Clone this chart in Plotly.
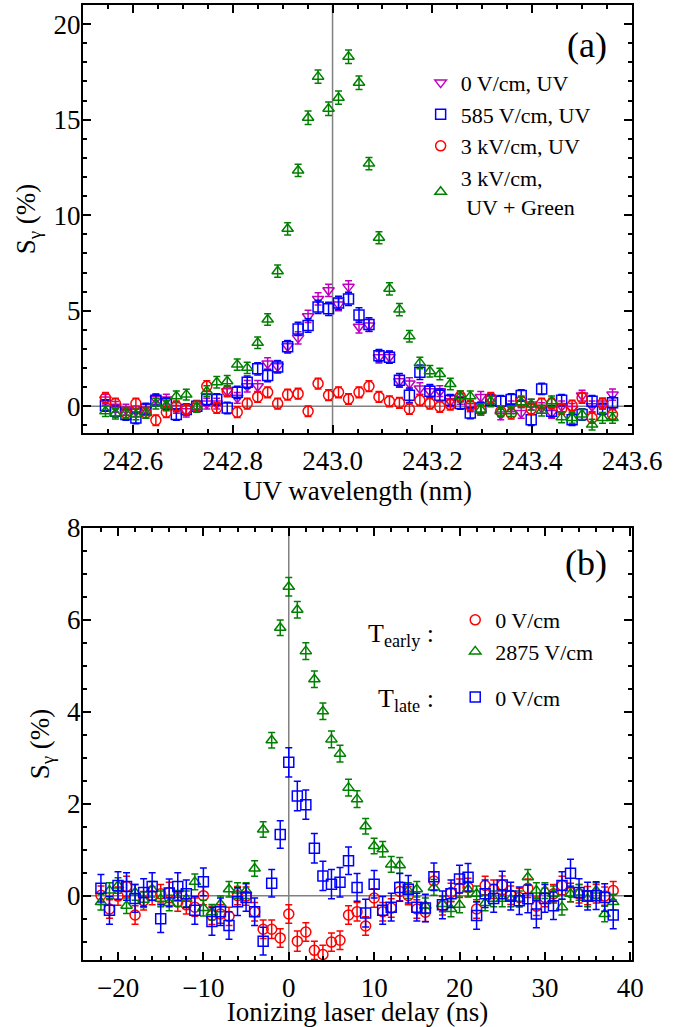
import plotly.graph_objects as go

# ---------------- Panel (a) data ----------------
wavelength_nm = [242.545, 242.565, 242.586, 242.606, 242.626, 242.646, 242.667, 242.687, 242.707, 242.728,
                 242.748, 242.768, 242.789, 242.809, 242.829, 242.850, 242.870, 242.890, 242.910, 242.931,
                 242.951, 242.971, 242.992, 243.012, 243.032, 243.053, 243.073, 243.093, 243.114, 243.134,
                 243.154, 243.175, 243.195, 243.215, 243.236, 243.256, 243.276, 243.297, 243.317, 243.337,
                 243.358, 243.378, 243.398, 243.419, 243.439, 243.459, 243.480, 243.500, 243.520, 243.541,
                 243.561]

s_0V_uv = [0.35, -0.03, -0.17, -0.26, -0.17, 0.38, 0.35, -0.09, -0.26, 0.00,
           0.14, 0.14, 0.79, 0.44, 1.05, 1.05, 2.24, 2.09, 3.14, 3.58,
           4.71, 5.62, 6.07, 5.32, 6.25, 4.16, 4.23, 2.57, 2.58, 1.31,
           1.19, 0.93, 0.79, 0.79, 0.26, 0.38, 0.00, 0.49, 0.38, -0.43,
           0.00, -0.35, 0.09, -0.09, -0.35, 0.00, -0.14, 0.56, 0.00, 0.14,
           0.61]
e_0V_uv = [0.28, 0.28, 0.28, 0.28, 0.28, 0.28, 0.28, 0.28, 0.30, 0.28,
           0.28, 0.28, 0.28, 0.28, 0.30, 0.30, 0.30, 0.30, 0.30, 0.32,
           0.32, 0.32, 0.32, 0.32, 0.32, 0.32, 0.32, 0.30, 0.30, 0.30,
           0.30, 0.30, 0.30, 0.28, 0.28, 0.28, 0.28, 0.28, 0.28, 0.28,
           0.28, 0.28, 0.28, 0.28, 0.28, 0.28, 0.28, 0.28, 0.28, 0.28,
           0.30]

s_585V_uv = [0.04, -0.26, -0.43, -0.61, -0.14, 0.31, 0.14, -0.43, -0.17, 0.00,
             0.35, 0.35, -0.09, 0.73, 1.26, 1.96, 1.61, 2.06, 3.11, 4.05,
             4.23, 5.20, 5.10, 5.41, 5.62, 4.78, 4.28, 2.65, 2.57, 1.36,
             0.58, 1.78, 0.79, 0.58, 0.31, 0.14, -0.35, -0.09, 0.31, 0.26,
             0.35, 0.56, -0.70, 0.91, -0.26, 0.31, -0.70, -0.43, 0.26, -0.14,
             0.18]
e_585V_uv = [0.30, 0.30, 0.30, 0.30, 0.30, 0.30, 0.30, 0.30, 0.30, 0.30,
             0.30, 0.30, 0.30, 0.32, 0.32, 0.32, 0.32, 0.32, 0.32, 0.35,
             0.35, 0.35, 0.35, 0.35, 0.35, 0.38, 0.35, 0.32, 0.32, 0.35,
             0.38, 0.38, 0.35, 0.32, 0.30, 0.30, 0.30, 0.30, 0.30, 0.30,
             0.30, 0.30, 0.30, 0.30, 0.30, 0.30, 0.30, 0.30, 0.30, 0.30,
             0.30]

s_3kV_uv = [0.44, 0.14, -0.35, 0.14, -0.35, -0.73, -0.31, 0.00, -0.17, 0.00,
            1.05, -0.09, 0.79, -0.31, 0.14, 0.49, 0.73, 0.14, 0.61, 0.66,
            -0.26, 1.19, 0.58, 0.73, 0.38, 0.73, 1.05, 0.49, 0.26, 0.18,
            -0.14, 0.31, 0.14, -0.03, 0.09, 0.52, 0.04, -0.17, 0.44, -0.26,
            -0.38, 0.26, -0.14, 0.14, 0.14, -0.14, 0.04, 0.44, -0.61, 0.14,
            -0.43]
e_3kV_uv = [0.28, 0.28, 0.28, 0.28, 0.28, 0.28, 0.28, 0.28, 0.28, 0.28,
            0.28, 0.28, 0.28, 0.28, 0.28, 0.28, 0.28, 0.28, 0.28, 0.28,
            0.28, 0.28, 0.28, 0.28, 0.28, 0.28, 0.28, 0.28, 0.28, 0.28,
            0.28, 0.28, 0.28, 0.28, 0.28, 0.28, 0.28, 0.28, 0.28, 0.28,
            0.28, 0.28, 0.28, 0.28, 0.28, 0.28, 0.28, 0.28, 0.28, 0.28,
            0.28]

s_3kV_uvg = [-0.26, -0.38, -0.35, -0.43, -0.35, 0.14, 0.04, 0.52, 0.61, -0.03,
             0.79, 1.26, 1.31, 2.18, 2.01, 3.32, 4.54, 7.07, 9.29, 12.34,
             15.10, 17.25, 15.57, 16.15, 18.29, 16.93, 12.70, 8.82, 6.15, 5.06,
             3.66, 2.27, 1.83, 1.69, 1.17, 0.52, 0.52, -0.17, 0.26, -0.26,
             -0.26, 0.21, 0.09, -0.23, 0.26, -0.58, -0.61, -0.43, -0.96, -0.61,
             -0.61]
e_3kV_uvg = [0.28, 0.28, 0.28, 0.28, 0.28, 0.28, 0.28, 0.28, 0.28, 0.28,
             0.28, 0.30, 0.30, 0.30, 0.30, 0.30, 0.30, 0.32, 0.32, 0.32,
             0.35, 0.35, 0.35, 0.35, 0.35, 0.35, 0.32, 0.32, 0.32, 0.32,
             0.30, 0.30, 0.30, 0.30, 0.30, 0.28, 0.28, 0.28, 0.28, 0.28,
             0.28, 0.28, 0.28, 0.28, 0.28, 0.28, 0.28, 0.28, 0.28, 0.28,
             0.28]

# ---------------- Panel (b) data ----------------
delay_ns = [-22, -21, -20, -19, -18, -17, -16, -15, -14, -13, -12, -11, -10, -9, -8, -7, -6, -5, -4, -3, -2, -1,
            0, 1, 2, 3, 4, 5, 6, 7, 8, 9, 10, 11, 12, 13, 14, 15, 16, 17, 18, 19, 20,
            21, 22, 23, 24, 25, 26, 27, 28, 29, 30, 31, 32, 33, 34, 35, 36, 37, 38]

s_early_0V = [0.01, -0.29, -0.01, 0.20, -0.42, -0.11, 0.00, 0.04, 0.07, -0.14, -0.20, -0.25, 0.00, -0.43, -0.40,
              -0.45, 0.00, -0.01, -0.35, -0.73, -0.73, -0.92, -0.40, -0.99, -0.79, -1.19, -1.28, -1.01, -0.97,
              -0.42, -0.35, -0.66, -0.05, -0.35, -0.27, 0.09, 0.00, -0.29, -0.36, 0.32, -0.22, 0.07, 0.16,
              0.18, -0.29, 0.22, 0.14, 0.23, 0.01, -0.04, 0.16, -0.23, -0.04, 0.04, 0.22, 0.07, 0.04,
              0.00, 0.04, -0.01, 0.11]
e_early_0V = [0.20, 0.20, 0.20, 0.22, 0.20, 0.20, 0.20, 0.20, 0.22, 0.20, 0.20, 0.20, 0.20, 0.20, 0.20,
              0.20, 0.20, 0.20, 0.20, 0.20, 0.20, 0.20, 0.20, 0.22, 0.20, 0.20, 0.20, 0.20, 0.20,
              0.20, 0.20, 0.20, 0.20, 0.20, 0.20, 0.20, 0.20, 0.20, 0.20, 0.20, 0.20, 0.20, 0.20,
              0.20, 0.20, 0.20, 0.20, 0.20, 0.20, 0.20, 0.20, 0.20, 0.20, 0.20, 0.20, 0.20, 0.20,
              0.20, 0.20, 0.20, 0.20]

s_early_2875V = [-0.14, 0.11, 0.22, -0.22, 0.07, -0.09, 0.14, -0.07, -0.16, -0.06, -0.07, 0.30, -0.27, -0.36, -0.18,
                 0.14, 0.11, 0.11, 0.59, 1.44, 3.38, 5.83, 6.72, 6.22, 5.32, 4.71, 4.01, 3.40, 3.09,
                 2.35, 2.10, 1.51, 1.08, 1.01, 0.68, 0.66, 0.11, 0.14, -0.22, 0.18, -0.18, -0.29, -0.20,
                 0.14, 0.04, -0.16, -0.07, -0.07, -0.07, -0.07, 0.40, 0.11, 0.11, 0.04, -0.25, 0.04, 0.07,
                 -0.07, 0.11, -0.40, -0.14]
e_early_2875V = [0.17, 0.17, 0.17, 0.17, 0.17, 0.17, 0.17, 0.17, 0.17, 0.17, 0.17, 0.17, 0.17, 0.17, 0.17,
                 0.17, 0.17, 0.17, 0.17, 0.17, 0.17, 0.17, 0.20, 0.18, 0.18, 0.18, 0.18, 0.18, 0.18,
                 0.18, 0.18, 0.17, 0.17, 0.17, 0.17, 0.17, 0.17, 0.17, 0.17, 0.17, 0.17, 0.17, 0.17,
                 0.17, 0.17, 0.17, 0.17, 0.17, 0.17, 0.17, 0.17, 0.17, 0.17, 0.17, 0.17, 0.17, 0.17,
                 0.17, 0.17, 0.17, 0.17]

s_late_0V = [0.16, -0.32, 0.22, 0.20, -0.06, 0.07, 0.20, -0.50, 0.06, 0.20, 0.04, -0.32, 0.30, -0.56, -0.35,
             -0.65, -0.13, -0.04, -0.35, -0.99, 0.27, 1.33, 2.90, 2.17, 1.98, 1.03, 0.43, 0.25, 0.29,
             0.76, 0.18, -0.38, 0.25, -0.32, -0.25, 0.18, 0.14, -0.25, -0.27, 0.41, -0.20, 0.04, 0.36,
             0.40, -0.43, 0.04, -0.06, 0.23, -0.01, -0.11, -0.07, -0.40, -0.06, -0.22, 0.22, 0.49, 0.07,
             -0.01, 0.00, -0.04, -0.42]
e_late_0V = [0.30, 0.30, 0.30, 0.30, 0.30, 0.30, 0.30, 0.30, 0.30, 0.30, 0.30, 0.30, 0.30, 0.30, 0.30,
             0.30, 0.30, 0.30, 0.30, 0.30, 0.30, 0.30, 0.32, 0.32, 0.32, 0.32, 0.32, 0.32, 0.32,
             0.30, 0.30, 0.30, 0.30, 0.30, 0.30, 0.30, 0.30, 0.30, 0.30, 0.30, 0.30, 0.30, 0.30,
             0.30, 0.30, 0.30, 0.30, 0.30, 0.30, 0.30, 0.30, 0.30, 0.30, 0.30, 0.30, 0.30, 0.30,
             0.30, 0.30, 0.30, 0.30]

FONT = "'Liberation Serif', 'DejaVu Serif', serif"
MAGENTA = "#BF00BF"
BLUE = "#0000FF"
RED = "#FF0000"
GREEN = "#008000"

fig = go.Figure()


def add_series(x, y, err, color, symbol, name, xa, ya, legend, group):
    fig.add_trace(go.Scatter(
        x=x, y=y, mode="markers", name=name,
        xaxis=xa, yaxis=ya, legend=legend,
        legendgroup=group,
        marker=dict(symbol=symbol, size=10, color=color,
                    line=dict(color=color, width=1.5)),
        error_y=dict(type="data", array=err, visible=True, color=color,
                     thickness=1.5, width=3.5),
    ))


add_series(wavelength_nm, s_0V_uv, e_0V_uv, MAGENTA, "triangle-down-open", "0 V/cm, UV", "x", "y", "legend", "a1")
add_series(wavelength_nm, s_585V_uv, e_585V_uv, BLUE, "square-open", "585 V/cm, UV", "x", "y", "legend", "a2")
add_series(wavelength_nm, s_3kV_uv, e_3kV_uv, RED, "circle-open", "3 kV/cm, UV", "x", "y", "legend", "a3")
add_series(wavelength_nm, s_3kV_uvg, e_3kV_uvg, GREEN, "triangle-up-open", "3 kV/cm,<br> UV + Green", "x", "y", "legend", "a4")

add_series(delay_ns, s_early_0V, e_early_0V, RED, "circle-open", "0 V/cm", "x2", "y2", "legend2", "early")
add_series(delay_ns, s_early_2875V, e_early_2875V, GREEN, "triangle-up-open", "2875 V/cm", "x2", "y2", "legend2", "early")
add_series(delay_ns, s_late_0V, e_late_0V, BLUE, "square-open", "0 V/cm", "x2", "y2", "legend2", "late")

axis_common = dict(
    showline=True, linewidth=2, linecolor="black", mirror="ticks",
    ticks="inside", ticklen=8, tickwidth=2, tickcolor="black",
    showgrid=False, zeroline=False, automargin=False,
    tickfont=dict(family=FONT, size=27, color="black"),
    title_font=dict(family=FONT, size=27, color="black"),
)
minor_common = dict(ticklen=4, tickwidth=1.5, ticks="inside", tickcolor="black", showgrid=False)

fig.update_layout(
    width=687, height=1027,
    paper_bgcolor="white", plot_bgcolor="white",
    margin=dict(l=83, r=55, t=5, b=67, autoexpand=False),
    font=dict(family=FONT, color="black"),
    xaxis=dict(axis_common, domain=[0, 1], anchor="y", range=[242.5, 243.6],
               tick0=242.0, dtick=0.2, tickformat=".1f", ticklabelstandoff=3,
               minor=dict(minor_common, dtick=0.05),
               title=dict(text="UV wavelength (nm)", standoff=3)),
    yaxis=dict(axis_common, domain=[0.5518, 1], anchor="x", range=[-1.4, 21],
               tick0=0, dtick=5, ticklabelstandoff=-5,
               minor=dict(minor_common, dtick=1),
               title=dict(text="S<sub>γ</sub> (%)", standoff=10)),
    xaxis2=dict(axis_common, domain=[0, 1], anchor="y2", range=[-24.1, 40.2],
                tick0=0, dtick=10, ticklabelstandoff=3,
                minor=dict(minor_common, dtick=2),
                title=dict(text="Ionizing laser delay (ns)", standoff=3)),
    yaxis2=dict(axis_common, domain=[0, 0.4524], anchor="x2", range=[-1.4, 8],
                tick0=0, dtick=2, ticklabelstandoff=-5,
                minor=dict(minor_common, dtick=0.5),
                title=dict(text="S<sub>γ</sub> (%)", standoff=10)),
    legend=dict(x=0.615, y=0.9405, xanchor="left", yanchor="top",
                bgcolor="rgba(0,0,0,0)", font=dict(family=FONT, size=22, color="black"),
                traceorder="grouped", tracegroupgap=0, itemwidth=30),
    legend2=dict(x=0.678, y=0.378, xanchor="left", yanchor="top",
                 bgcolor="rgba(0,0,0,0)", font=dict(family=FONT, size=22, color="black"),
                 traceorder="grouped", tracegroupgap=14, itemwidth=30),
    showlegend=True,
)

# reference lines
fig.add_shape(type="line", xref="x domain", yref="y", x0=0, x1=1, y0=0, y1=0,
              line=dict(color="gray", width=1.5), layer="below")
fig.add_shape(type="line", xref="x", yref="y domain", x0=243.0, x1=243.0, y0=0, y1=1,
              line=dict(color="gray", width=1.5), layer="below")
fig.add_shape(type="line", xref="x2 domain", yref="y2", x0=0, x1=1, y0=0, y1=0,
              line=dict(color="gray", width=1.5), layer="below")
fig.add_shape(type="line", xref="x2", yref="y2 domain", x0=0, x1=0, y0=0, y1=1,
              line=dict(color="gray", width=1.5), layer="below")

# panel labels
fig.add_annotation(text="(a)", xref="x domain", yref="y domain", x=0.958, y=0.9065,
                   xanchor="right", yanchor="middle", showarrow=False,
                   font=dict(family=FONT, size=36, color="black"))
fig.add_annotation(text="(b)", xref="x2 domain", yref="y2 domain", x=0.958, y=0.919,
                   xanchor="right", yanchor="middle", showarrow=False,
                   font=dict(family=FONT, size=36, color="black"))

# group labels of legend (b)
fig.add_annotation(text="T<sub>early</sub> :", xref="paper", yref="paper", x=0.643, y=0.340,
                   xanchor="right", yanchor="middle", showarrow=False,
                   font=dict(family=FONT, size=26, color="black"))
fig.add_annotation(text="T<sub>late</sub> :", xref="paper", yref="paper", x=0.643, y=0.272,
                   xanchor="right", yanchor="middle", showarrow=False,
                   font=dict(family=FONT, size=26, color="black"))

fig.write_html("out.html", config={"displayModeBar": False},
               post_script="document.body.style.margin='0px';")
